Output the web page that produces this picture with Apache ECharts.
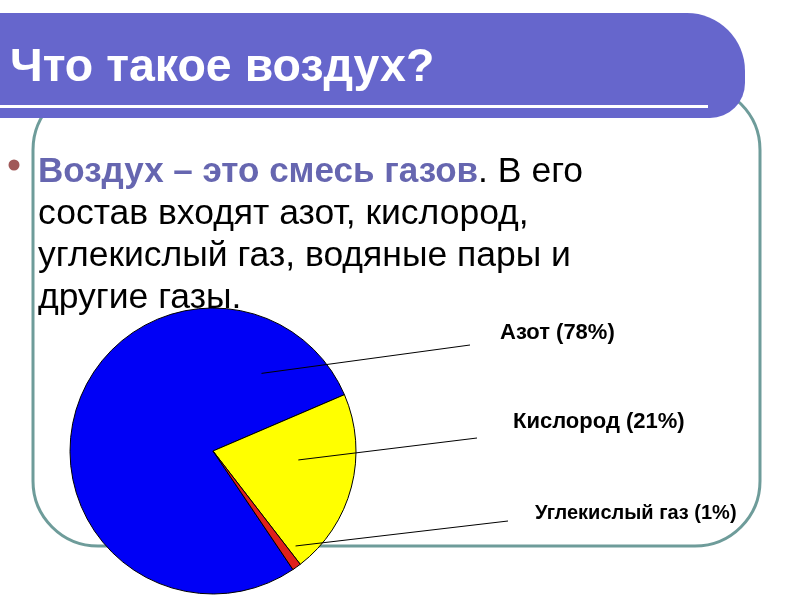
<!DOCTYPE html>
<html>
<head>
<meta charset="utf-8">
<style>
html, body { margin: 0; padding: 0; background: #fff; }
#main { width: 800px; height: 600px; }
</style>
<script src="https://cdn.jsdelivr.net/npm/echarts/dist/echarts.min.js"></script>
</head>
<body>
<div id="main"></div>
<script>
// состав воздуха, %
var categories = ['Азот', 'Кислород', 'Углекислый газ'];
var values = [78, 21, 1];
var colors = ['#0000F6', '#FFFF00', '#E0201C'];

// раскладка подписей (только позиции и размеры)
var pieCenter = [213, 451];
var pieRadius = 143;
var labelAt = [[500, 333], [513, 422], [535, 513]];
var labelSize = [22, 22, 20];
var leaderFrom = [[58, 0.64], [-6, 0.6], [-49, 0.88]]; // угол, доля радиуса
var leaderTo = [[470, 345], [477, 438], [508, 521]];

var chart = echarts.init(document.getElementById('main'));

var fillData = [], labelData = [];
for (var i = 0; i < categories.length; i++) {
    fillData.push({ name: categories[i], value: values[i], itemStyle: { color: colors[i] } });
    labelData.push({ name: categories[i], value: values[i], label: { fontSize: labelSize[i] } });
}

var font = 'Liberation Sans, Arial, sans-serif';

chart.setOption({
    animation: false,
    backgroundColor: '#fff',
    graphic: [
        // рамка слайда
        {
            type: 'rect', z: 0, silent: true,
            shape: { x: 33, y: 85, width: 727, height: 461, r: 65 },
            style: { fill: 'none', stroke: '#6E9C9A', lineWidth: 3 }
        },
        // шапка
        {
            type: 'rect', z: 1, silent: true,
            shape: { x: -10, y: 13, width: 755, height: 105, r: [0, 58, 35, 0] },
            style: { fill: '#6666CC' }
        },
        {
            type: 'rect', z: 2, silent: true,
            shape: { x: 0, y: 105, width: 708, height: 3 },
            style: { fill: '#fff' }
        },
        {
            type: 'text', z: 3, silent: true,
            x: 10, y: 68,
            style: {
                text: 'Что такое воздух?',
                fontSize: 46.5, fontWeight: 'bold', fontFamily: font,
                fill: '#fff', verticalAlign: 'middle'
            }
        },
        // маркер списка
        {
            type: 'circle', z: 3, silent: true,
            shape: { cx: 14, cy: 165, r: 5.5 },
            style: { fill: '#A05858' }
        },
        {
            type: 'text', z: 3, silent: true,
            x: 38, y: 151,
            style: {
                text: '{h|Воздух – это смесь газов}. В его\nсостав входят азот, кислород,\nуглекислый газ, водяные пары и\nдругие газы.',
                fontSize: 35.5, fontFamily: font,
                fill: '#000', lineHeight: 42, verticalAlign: 'top',
                rich: {
                    h: {
                        fontSize: 35, fontWeight: 'bold', fontFamily: font,
                        fill: '#6666B0', lineHeight: 42
                    }
                }
            }
        }
    ],
    series: [{
        // сектора
        type: 'pie',
        z: 2,
        center: pieCenter,
        radius: pieRadius,
        startAngle: 304,
        clockwise: true,
        silent: true,
        itemStyle: { borderColor: '#000', borderWidth: 1 },
        label: { show: false },
        labelLine: { show: false },
        data: fillData
    }, {
        // подписи и выноски поверх секторов
        type: 'pie',
        z: 4,
        center: pieCenter,
        radius: pieRadius,
        startAngle: 304,
        clockwise: true,
        avoidLabelOverlap: false,
        silent: true,
        itemStyle: { color: 'rgba(0,0,0,0)', borderWidth: 0 },
        label: {
            show: true,
            formatter: '{b} ({c}%)',
            color: '#000',
            fontWeight: 'bold',
            fontFamily: font
        },
        labelLine: { show: true, lineStyle: { color: '#000', width: 1 } },
        labelLayout: function (p) {
            var k = p.dataIndex;
            var a = leaderFrom[k][0] * Math.PI / 180;
            var r = leaderFrom[k][1] * pieRadius;
            var start = [pieCenter[0] + r * Math.cos(a), pieCenter[1] - r * Math.sin(a)];
            return {
                x: labelAt[k][0], y: labelAt[k][1],
                align: 'left', verticalAlign: 'middle',
                labelLinePoints: [start, leaderTo[k], leaderTo[k]]
            };
        },
        data: labelData
    }]
});
window.onresize = chart.resize;
</script>
</body>
</html>
